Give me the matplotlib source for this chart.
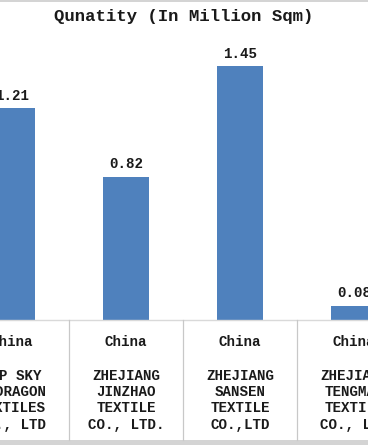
import matplotlib
matplotlib.use("Agg")
import matplotlib.pyplot as plt
import matplotlib.transforms as mtransforms
from matplotlib.patches import Rectangle

# Data
countries = ["China", "China", "China", "China"]
companies = [
    "TOP SKY\n& DRAGON\nTEXTILES\nCO., LTD",
    "ZHEJIANG\nJINZHAO\nTEXTILE\nCO., LTD.",
    "ZHEJIANG\nSANSEN\nTEXTILE\nCO.,LTD",
    "ZHEJIANG\nTENGMAO\nTEXTILE\nCO., LTD",
]
quantity = [1.21, 0.82, 1.45, 0.08]
value_labels = ["1.21", "0.82", "1.45", "0.08"]
title = "Qunatity (In Million Sqm)"

W, H = 368, 445
font = "Liberation Mono"
bar_color = "#4F81BD"
text_color = "#1a1a1a"

fig = plt.figure(figsize=(W / 100, H / 100), dpi=100)

def fy(ypix):
    # pixel from top -> figure fraction
    return (H - ypix) / H

base_px, top_px = 320, 40
ax = fig.add_axes([0, fy(base_px), 1, (base_px - top_px) / H])
x = list(range(len(quantity)))
ax.bar(x, quantity, width=0.4, color=bar_color, zorder=2)
ax.set_xlim(-0.105, 3.123)
ax.set_ylim(0, 1.6)
ax.axis("off")

for xi, v, lab in zip(x, quantity, value_labels):
    ax.annotate(lab, (xi, v), xytext=(0, 4), textcoords="offset points",
                ha="center", va="bottom", fontsize=10.2, fontweight="bold",
                family=font, color=text_color)

# baseline
ax.axhline(0, color="#d9d9d9", lw=1, zorder=3, clip_on=False)

trans = mtransforms.blended_transform_factory(ax.transData, fig.transFigure)

# category dividers
for d in [0.5, 1.5, 2.5]:
    fig.add_artist(plt.Line2D([d, d], [fy(base_px), fy(440)], transform=trans,
                              color="#c8c8c8", lw=0.9))

for xi, c, comp in zip(x, countries, companies):
    fig.text(xi, fy(342), c, transform=trans, ha="center", va="center",
             fontsize=10.2, fontweight="bold", family=font, color=text_color)
    fig.text(xi, fy(369), comp, transform=trans, ha="center", va="top",
             fontsize=10.2, fontweight="bold", family=font, color=text_color,
             linespacing=1.2, multialignment="center")

fig.text(0.5, fy(17), title, ha="center", va="center", fontsize=12.5,
         fontweight="bold", family=font, color=text_color)

# grey frame strips at top and bottom
fig.add_artist(Rectangle((0, fy(2)), 1, 2 / H, transform=fig.transFigure,
                         color="#d4d4d4", lw=0))
fig.add_artist(Rectangle((0, 0), 1, 5 / H, transform=fig.transFigure,
                         color="#d4d4d4", lw=0))

fig.savefig("out.png", dpi=100)
